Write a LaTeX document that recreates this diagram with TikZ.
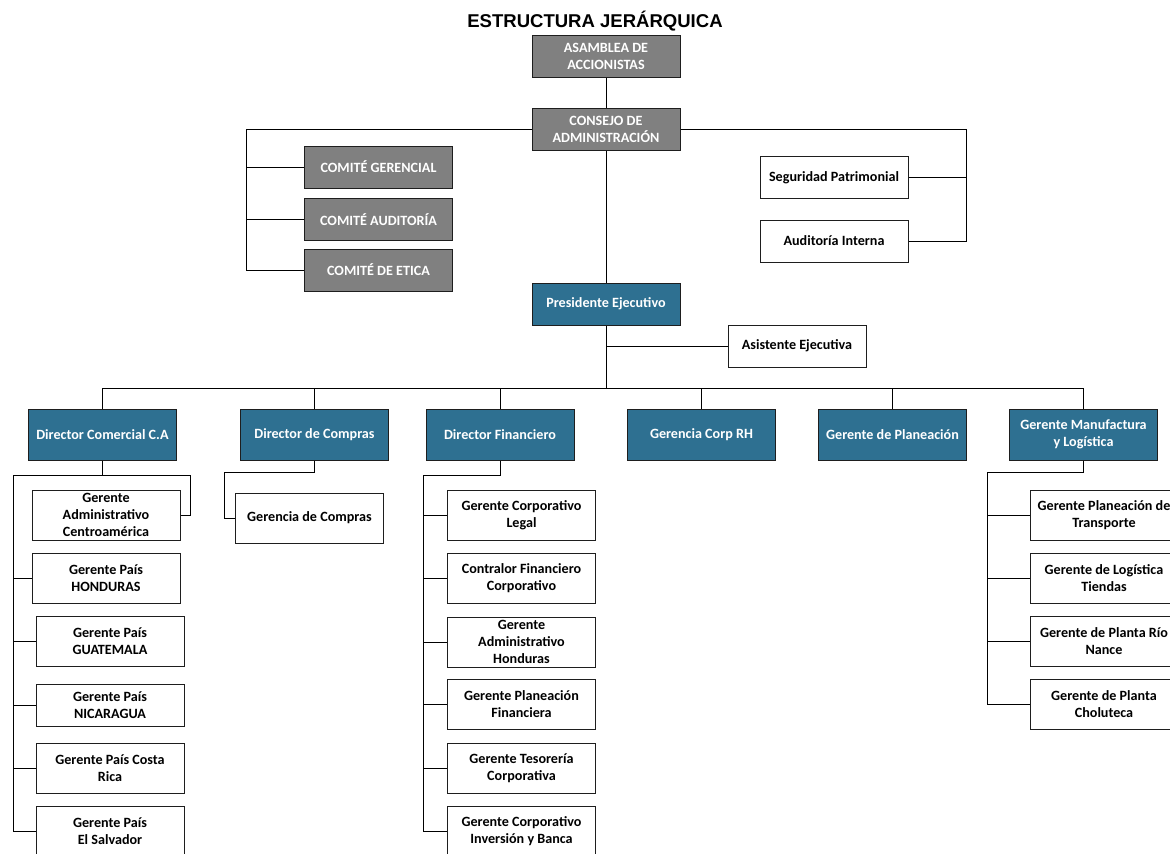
\documentclass[tikz,border=0pt]{standalone}
\usepackage{fontspec}
\setmainfont{Carlito}
\newfontfamily\titlefont{Liberation Sans}
\definecolor{boxgray}{RGB}{128,128,128}
\definecolor{boxblue}{RGB}{46,112,145}
\definecolor{edge}{RGB}{30,30,30}
\begin{document}
\begin{tikzpicture}[x=0.75pt,y=-0.75pt,
  base/.style={draw=edge,line width=0.75pt,align=center,inner sep=1pt,
    font=\fontsize{10.6}{12.75}\selectfont\bfseries,minimum width=111pt,minimum height=37.5pt},
  graybox/.style={base,fill=boxgray,text=white,minimum height=31.5pt},
  bluebox/.style={base,fill=boxblue,text=white,minimum height=38.25pt},
  whitebox/.style={base,fill=white,text=black},
  link/.style={draw=black,line width=0.75pt}]
\useasboundingbox (0,0) rectangle (1170,853);
\clip (0,0) rectangle (1170,853);

\node[font=\titlefont\fontsize{13.9}{16}\selectfont\bfseries] (title) at (595,21) {ESTRUCTURA JERÁRQUICA};

\node[graybox] (asamblea) at (606,56) {ASAMBLEA DE\\ACCIONISTAS};
\node[graybox] (consejo) at (606,129.5) {CONSEJO DE\\ADMINISTRACIÓN};
\node[graybox] (com1) at (378.5,167) {COMITÉ GERENCIAL};
\node[graybox] (com2) at (378.5,219.5) {COMITÉ AUDITORÍA};
\node[graybox] (com3) at (378.5,270) {COMITÉ DE ETICA};
\node[whitebox,minimum height=32pt] (seg) at (834,177.5) {Seguridad Patrimonial};
\node[whitebox,minimum height=31.5pt] (aud) at (834,241) {Auditoría Interna};
\node[graybox,fill=boxblue] (pres) at (606,304) {Presidente Ejecutivo};
\node[whitebox,minimum width=103.5pt,minimum height=31.5pt] (asis) at (797,346) {Asistente Ejecutiva};

\node[bluebox] (d1) at (102.5,434.5) {Director Comercial C.A};
\node[bluebox] (d2) at (314.5,434.5) {Director de Compras};
\node[bluebox] (d3) at (500,434.5) {Director Financiero};
\node[bluebox] (d4) at (701.5,434.5) {Gerencia Corp RH};
\node[bluebox] (d5) at (892.5,434.5) {Gerente de Planeación};
\node[bluebox] (d6) at (1083.5,434.5) {Gerente Manufactura\\y Logística};

\node[whitebox] (c1) at (106,515) {Gerente\\Administrativo\\Centroamérica};
\node[whitebox] (c2) at (106,578) {Gerente País\\HONDURAS};
\node[whitebox] (c3) at (110,641.5) {Gerente País\\GUATEMALA};
\node[whitebox,minimum height=31.5pt] (c4) at (110,705) {Gerente País\\NICARAGUA};
\node[whitebox] (c5) at (110,768) {Gerente País Costa\\Rica};
\node[whitebox] (c6) at (110,831) {Gerente País\\El Salvador};

\node[whitebox] (p1) at (309.5,518) {Gerencia de Compras};

\node[whitebox] (f1) at (521.5,515) {Gerente Corporativo\\Legal};
\node[whitebox] (f2) at (521.5,578) {Contralor Financiero\\Corporativo};
\node[whitebox] (f3) at (521.5,642) {Gerente\\Administrativo\\Honduras};
\node[whitebox] (f4) at (521.5,704.5) {Gerente Planeación\\Financiera};
\node[whitebox] (f5) at (521.5,768) {Gerente Tesorería\\Corporativa};
\node[whitebox] (f6) at (521.5,831) {Gerente Corporativo\\Inversión y Banca};

\node[whitebox] (m1) at (1104,515) {Gerente Planeación de\\Transporte};
\node[whitebox] (m2) at (1104,578) {Gerente de Logística\\Tiendas};
\node[whitebox] (m3) at (1104,641.5) {Gerente de Planta Río\\Nance};
\node[whitebox] (m4) at (1104,704.5) {Gerente de Planta\\Choluteca};

% coordinates
\coordinate (cl) at (246,0);
\coordinate (cr) at (966.7,0);
\coordinate (bus) at (0,388);
\coordinate (aL) at (13,475);
\coordinate (aR) at (190,475);
\coordinate (bL) at (224.7,472.7);
\coordinate (fL) at (423,475);
\coordinate (mL) at (987.7,472);

% top
\draw[link] (asamblea.south) -- (consejo.north);
\draw[link] (consejo.west) -| (cl |- com3.west) -- (com3.west);
\draw[link] (cl |- com1.west) -- (com1.west);
\draw[link] (cl |- com2.west) -- (com2.west);
\draw[link] (consejo.east) -| (cr |- aud.east) -- (aud.east);
\draw[link] (seg.east) -- (cr |- seg.east);
\draw[link] (consejo.south) -- (pres.north);
\draw[link] (pres.south) -- (pres.south |- bus);
\draw[link] (pres.south |- asis.west) -- (asis.west);

% bus
\draw[link] (d1.north) |- (bus -| d6.north) -- (d6.north);
\draw[link] (d2.north) -- (d2.north |- bus);
\draw[link] (d3.north) -- (d3.north |- bus);
\draw[link] (d4.north) -- (d4.north |- bus);
\draw[link] (d5.north) -- (d5.north |- bus);

% comercial
\draw[link] (d1.south) -- (d1.south |- aL);
\draw[link] (aL |- c6.west) -- (aL) -- (aR) |- (c1.east);
\draw[link] (aL |- c2.west) -- (c2.west);
\draw[link] (aL |- c3.west) -- (c3.west);
\draw[link] (aL |- c4.west) -- (c4.west);
\draw[link] (aL |- c5.west) -- (c5.west);
\draw[link] (aL |- c6.west) -- (c6.west);

% compras
\draw[link] (d2.south) |- (bL) |- (p1.west);

% financiero
\draw[link] (d3.south) |- (fL) |- (f6.west);
\draw[link] (fL |- f1.west) -- (f1.west);
\draw[link] (fL |- f2.west) -- (f2.west);
\draw[link] (fL |- f3.west) -- (f3.west);
\draw[link] (fL |- f4.west) -- (f4.west);
\draw[link] (fL |- f5.west) -- (f5.west);

% manufactura
\draw[link] (d6.south) |- (mL) |- (m4.west);
\draw[link] (mL |- m1.west) -- (m1.west);
\draw[link] (mL |- m2.west) -- (m2.west);
\draw[link] (mL |- m3.west) -- (m3.west);
\end{tikzpicture}
\end{document}
